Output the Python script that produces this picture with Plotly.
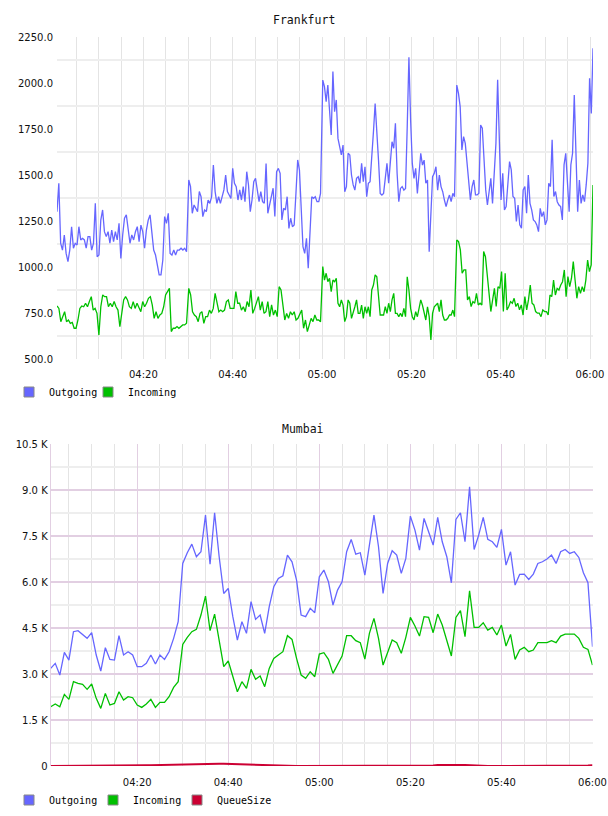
import pandas as pd
import plotly.graph_objects as go

DAY = "2014-01-01 "

# ---------------- Frankfurt data (30 s samples, in four half-hour blocks) ----------------
frankfurt_block_starts = ["04:00:40", "04:30:10", "05:00:10", "05:30:10"]
frankfurt_block_ends = ["04:29:40", "04:59:40", "05:29:40", "06:00:40"]

frankfurt_outgoing_1 = [1300, 1455, 1129, 1092, 1174, 1074, 1029, 1092, 1219, 1102,
                        1129, 1120, 1219, 1147, 1156, 1147, 1102, 1165, 1165, 1092,
                        1129, 1346, 1056, 1065, 1255, 1310, 1192, 1165, 1192, 1129,
                        1201, 1138, 1192, 1147, 1237, 1047, 1174, 1265, 1283, 1192,
                        1129, 1174, 1147, 1192, 1219, 1138, 1228, 1192, 1102, 1201,
                        1255, 1283, 1192, 1092, 1065, 1020, 957, 957, 1038, 1274,
                        1237, 1292, 1074, 1065, 1092, 1065, 1092, 1092, 1102, 1092,
                        1102, 1083]
frankfurt_outgoing_2 = [1473, 1437, 1292, 1337, 1319, 1301, 1410, 1382, 1274, 1310,
                        1301, 1364, 1346, 1382, 1554, 1410, 1346, 1382, 1346, 1382,
                        1419, 1500, 1410, 1391, 1373, 1536, 1455, 1437, 1364, 1419,
                        1364, 1437, 1355, 1518, 1446, 1301, 1364, 1464, 1482, 1419,
                        1355, 1410, 1355, 1346, 1563, 1292, 1337, 1364, 1428, 1274,
                        1518, 1536, 1509, 1256, 1319, 1310, 1382, 1210, 1265, 1219,
                        1228, 1400, 1582, 1527, 1310, 1111, 1074, 1156, 993, 1183,
                        1382, 1373, 1382, 1355, 1355, 1400]
frankfurt_outgoing_3 = [2016, 1980, 1899, 1989, 1835, 1717, 2062, 1844, 1908, 1699,
                        1654, 1609, 1663, 1409, 1437, 1618, 1609, 1500, 1446, 1418,
                        1482, 1491, 1455, 1563, 1464, 1545, 1382, 1455, 1464, 1636,
                        1735, 1889, 1763, 1581, 1400, 1391, 1400, 1473, 1563, 1455,
                        1554, 1681, 1645, 1781, 1509, 1355, 1427, 1437, 1418, 1427,
                        1763, 2140, 1799, 1563, 1482, 1536, 1400, 1527, 1618, 1554,
                        1581, 1455, 1473, 1083, 1292, 1491, 1509, 1545, 1418, 1500,
                        1437, 1409, 1364, 1328, 1364, 1391, 1355, 1400, 1382]
frankfurt_outgoing_4 = [1989, 1944, 1872, 1636, 1709, 1672, 1564, 1473, 1364, 1437,
                        1473, 1392, 1392, 1401, 1772, 1754, 1564, 1419, 1337, 1410,
                        1482, 1346, 1509, 1672, 2017, 1691, 1364, 1509, 1310, 1328,
                        1437, 1573, 1528, 1383, 1374, 1247, 1337, 1229, 1211, 1419,
                        1437, 1292, 1500, 1346, 1310, 1256, 1247, 1229, 1192, 1319,
                        1274, 1301, 1229, 1256, 1455, 1437, 1691, 1383, 1410, 1355,
                        1337, 1328, 1256, 1555, 1618, 1437, 1301, 1555, 1618, 1935,
                        1546, 1301, 1473, 1346, 1392, 1355, 1446, 1564, 2026, 1835,
                        2189]

frankfurt_incoming_1 = [788, 775, 703, 730, 757, 703, 712, 694, 699, 667,
                        667, 712, 775, 788, 784, 803, 784, 812, 839, 766,
                        775, 748, 630, 784, 848, 839, 839, 784, 803, 784,
                        812, 784, 766, 676, 766, 821, 839, 821, 784, 775,
                        812, 775, 803, 775, 757, 812, 784, 803, 830, 839,
                        794, 721, 757, 721, 739, 748, 784, 848, 866, 884,
                        649, 667, 667, 676, 667, 679, 685, 685, 694]
frankfurt_incoming_2 = [884, 848, 757, 739, 730, 703, 748, 757, 694, 730,
                        730, 766, 748, 775, 857, 803, 757, 766, 757, 766,
                        812, 821, 775, 775, 775, 866, 803, 803, 766, 784,
                        757, 812, 784, 875, 748, 775, 812, 839, 766, 812,
                        748, 757, 812, 730, 794, 739, 766, 730, 893, 875,
                        794, 712, 748, 721, 757, 739, 757, 712, 721, 748,
                        766, 667, 712, 649, 694, 721, 703, 739, 712, 712,
                        703]
frankfurt_incoming_3 = [1002, 929, 966, 920, 938, 866, 929, 920, 938, 803,
                        784, 821, 793, 703, 730, 821, 803, 721, 748, 784,
                        821, 748, 748, 793, 721, 784, 748, 784, 730, 875,
                        902, 957, 947, 857, 739, 739, 739, 784, 748, 803,
                        757, 821, 857, 748, 748, 730, 748, 730, 775, 730,
                        947, 875, 775, 730, 712, 757, 730, 775, 821, 793,
                        748, 712, 784, 730, 603, 748, 784, 793, 803, 757,
                        821, 739, 712, 712, 721, 739, 739, 766, 730]
frankfurt_incoming_4 = [1147, 1138, 1093, 966, 984, 984, 821, 839, 785, 812,
                        803, 857, 794, 803, 794, 1084, 1056, 966, 848, 758,
                        821, 884, 785, 893, 884, 975, 758, 966, 767, 785,
                        812, 803, 830, 785, 803, 767, 794, 739, 839, 767,
                        821, 902, 803, 794, 758, 749, 749, 730, 767, 758,
                        758, 739, 848, 839, 929, 848, 884, 875, 902, 920,
                        984, 839, 948, 893, 939, 1029, 929, 830, 893, 857,
                        893, 866, 929, 1038, 975, 1011, 1446]

# ---------------- Mumbai data (1 min samples) ----------------
mumbai_start = "04:01"
mumbai_outgoing = [3184, 3347, 2966, 3705, 3455, 4379, 4412, 4271, 4162, 4347,
                   3619, 3097, 3858, 3477, 3455, 4249, 3619, 3727, 3619, 3238,
                   3238, 3347, 3619, 3325, 3619, 3477, 3727, 4162, 4705, 6606,
                   6954, 7236, 6823, 6986, 8182, 6584, 8258, 6823, 5627, 5790,
                   4869, 4108, 4705, 4325, 5358, 4782, 4923, 4325, 5195, 5845,
                   6117, 6204, 6878, 6660, 6062, 4923, 4869, 5140, 5000, 6171,
                   6388, 6008, 5249, 5736, 6008, 6986, 7388, 6910, 6954, 6225,
                   7258, 8182, 7149, 5627, 6606, 7019, 6878, 6280, 6769, 8149,
                   7693, 7041, 8073, 7638, 7204, 8106, 7312, 6823, 5975, 8041,
                   8258, 7312, 9106, 7062, 7530, 8106, 7388, 7312, 7127, 7715,
                   6551, 6986, 5899, 6247, 6258, 6084, 6258, 6606, 6660, 6747,
                   6878, 6606, 6986, 7062, 6932, 6986, 6801, 6301, 5975, 3890]
mumbai_incoming = [1934, 2021, 1934, 2336, 2173, 2749, 2695, 2662, 2499, 2673,
                   2205, 1879, 2368, 1988, 2042, 2423, 2151, 2260, 2227, 1988,
                   1912, 2021, 2173, 1912, 2075, 2075, 2260, 2564, 2749, 3966,
                   4195, 4379, 4456, 4923, 5540, 4412, 4955, 4108, 3238, 3423,
                   2912, 2423, 2749, 2532, 3151, 2825, 2934, 2586, 3184, 3510,
                   3619, 3727, 4249, 4129, 3510, 2966, 2858, 3075, 2912, 3651,
                   3695, 3477, 3021, 3292, 3586, 4249, 4249, 4086, 4021, 3488,
                   4325, 4814, 4162, 3292, 3727, 4108, 4021, 3673, 4195, 4847,
                   4564, 4238, 4869, 4847, 4347, 4955, 4597, 4129, 3586, 4847,
                   5064, 4216, 5714, 4521, 4521, 4673, 4434, 4521, 4271, 4597,
                   3912, 4292, 3477, 3782, 3869, 3727, 3782, 4021, 4021, 4021,
                   4086, 4021, 4238, 4303, 4303, 4303, 4162, 3869, 3803, 3292]
mumbai_queue = [0, 0, 0, 0, 0, 0, 0, 0, 0, 0,
                0, 0, 0, 2, 4, 6, 8, 10, 12, 15,
                18, 22, 26, 30, 35, 40, 45, 50, 55, 60,
                65, 70, 75, 78, 80, 80, 78, 75, 70, 65,
                60, 52, 45, 38, 30, 25, 20, 15, 10, 6,
                3, 0, 0, 0, 0, 0, 0, 0, 0, 0,
                0, 0, 0, 0, 0, 0, 0, 0, 0, 0,
                0, 0, 0, 0, 0, 0, 0, 0, 0, 0,
                0, 0, 5, 10, 20, 30, 35, 40, 40, 40,
                35, 30, 20, 10, 5, 2, 0, 0, 0, 0,
                0, 0, 0, 0, 0, 0, 0, 0, 0, 0,
                0, 0, 0, 0, 0, 5, 10, 15, 20, 25]

# ---------------- axis ticks ----------------
frankfurt_y_ticks = [500, 750, 1000, 1250, 1500, 1750, 2000, 2250]
frankfurt_y_grid = [625, 875, 1125, 1375, 1625, 1875, 2125]
mumbai_y_ticks = [0, 1500, 3000, 4500, 6000, 7500, 9000, 10500]
mumbai_y_labels = ["0", "1.5 K", "3.0 K", "4.5 K", "6.0 K", "7.5 K", "9.0 K", "10.5 K"]
mumbai_y_grid = [750, 2250, 3750, 5250, 6750, 8250, 9750]

# ---------------- styling ----------------
W, H = 608, 816
C_OUT = "#6666ff"
C_IN = "#00c000"
C_Q = "#cc0033"
MONO = "DejaVu Sans Mono"
SANS = "DejaVu Sans"
CLEAR = "rgba(0,0,0,0)"


def block_times(values, start, end):
    return pd.date_range(DAY + start, DAY + end, periods=len(values))


f_out_blocks = [frankfurt_outgoing_1, frankfurt_outgoing_2, frankfurt_outgoing_3, frankfurt_outgoing_4]
f_in_blocks = [frankfurt_incoming_1, frankfurt_incoming_2, frankfurt_incoming_3, frankfurt_incoming_4]

f_out_x, f_out_y, f_in_x, f_in_y = [], [], [], []
for vals, s, e in zip(f_out_blocks, frankfurt_block_starts, frankfurt_block_ends):
    f_out_x += list(block_times(vals, s, e))
    f_out_y += vals
for vals, s, e in zip(f_in_blocks, frankfurt_block_starts, frankfurt_block_ends):
    f_in_x += list(block_times(vals, s, e))
    f_in_y += vals

m_x = pd.date_range(DAY + mumbai_start, periods=len(mumbai_outgoing), freq="1min")

fig = go.Figure()

# Frankfurt
fig.add_trace(go.Scatter(x=f_out_x, y=f_out_y, mode="lines", line=dict(color=C_OUT, width=1.3),
                         xaxis="x", yaxis="y", showlegend=False))
fig.add_trace(go.Scatter(x=f_in_x, y=f_in_y, mode="lines", line=dict(color=C_IN, width=1.3),
                         xaxis="x", yaxis="y", showlegend=False))
# Mumbai
fig.add_trace(go.Scatter(x=m_x, y=mumbai_outgoing, mode="lines", line=dict(color=C_OUT, width=1.3),
                         xaxis="x2", yaxis="y2", showlegend=False))
fig.add_trace(go.Scatter(x=m_x, y=mumbai_incoming, mode="lines", line=dict(color=C_IN, width=1.3),
                         xaxis="x2", yaxis="y2", showlegend=False))
fig.add_trace(go.Scatter(x=m_x, y=mumbai_queue, mode="lines", line=dict(color=C_Q, width=2),
                         xaxis="x2", yaxis="y2", showlegend=False, cliponaxis=False))


# legend swatches
def swatch(name, color, legend, xa, ya, edge="#888888"):
    return go.Scatter(x=[None], y=[None], mode="markers", name=name, legend=legend,
                      xaxis=xa, yaxis=ya,
                      marker=dict(symbol="square", size=10, color=color,
                                  line=dict(color=edge, width=1)))


fig.add_trace(swatch("Outgoing", C_OUT, "legend", "x", "y"))
fig.add_trace(swatch("Incoming", C_IN, "legend", "x", "y"))
fig.add_trace(swatch(" ", CLEAR, "legend", "x", "y", edge=CLEAR))
fig.add_trace(swatch("Outgoing", C_OUT, "legend2", "x2", "y2"))
fig.add_trace(swatch("Incoming", C_IN, "legend2", "x2", "y2"))
fig.add_trace(swatch("QueueSize", C_Q, "legend2", "x2", "y2"))
fig.add_trace(swatch(" ", CLEAR, "legend2", "x2", "y2", edge=CLEAR))

tickfont = dict(family=SANS, size=10, color="#111111")
GRID_H = "#eeeeee"
GRID_V = "#e4e4e4"
PINK = "#e2cfe2"

fig.update_layout(
    width=W, height=H,
    margin=dict(l=0, r=0, t=0, b=0, autoexpand=False),
    paper_bgcolor="white", plot_bgcolor="white",
    xaxis=dict(
        domain=[57 / W, 593 / W], anchor="y", type="date", automargin=False,
        range=[DAY + "04:00:40", DAY + "06:00:40"],
        tickmode="linear", tick0=DAY + "04:00", dtick=20 * 60 * 1000, tickformat="%H:%M",
        showgrid=True, gridcolor=GRID_V, gridwidth=1,
        minor=dict(dtick=5 * 60 * 1000, tick0=DAY + "04:00", showgrid=True, gridcolor=GRID_V, gridwidth=1),
        showline=False, zeroline=False, ticks="", tickfont=tickfont, ticklabelstandoff=8,
    ),
    yaxis=dict(
        domain=[1 - 359 / H, 1 - 37 / H], anchor="x", automargin=False,
        range=[500, 2250], tickvals=frankfurt_y_ticks, tickformat=".1f",
        showgrid=False,
        minor=dict(tickvals=frankfurt_y_grid, showgrid=True, gridcolor=GRID_H, gridwidth=2),
        showline=False, zeroline=False, ticks="", tickfont=tickfont, ticklabelstandoff=3,
    ),
    xaxis2=dict(
        domain=[50.7 / W, 592.5 / W], anchor="y2", type="date", automargin=False,
        range=[DAY + "04:01", DAY + "06:00"],
        tickmode="linear", tick0=DAY + "04:00", dtick=20 * 60 * 1000, tickformat="%H:%M",
        showgrid=True, gridcolor=PINK, gridwidth=1,
        minor=dict(dtick=5 * 60 * 1000, tick0=DAY + "04:00", showgrid=True, gridcolor=GRID_V, gridwidth=1),
        showline=False, zeroline=False, ticks="", tickfont=tickfont, ticklabelstandoff=9,
    ),
    yaxis2=dict(
        domain=[1 - 766 / H, 1 - 444 / H], anchor="x2", automargin=False,
        range=[0, 10500], tickvals=mumbai_y_ticks, ticktext=mumbai_y_labels,
        showgrid=True, gridcolor=PINK, gridwidth=2,
        minor=dict(tickvals=mumbai_y_grid, showgrid=True, gridcolor=GRID_H, gridwidth=2),
        showline=True, linecolor=PINK, linewidth=1, mirror=False,
        zeroline=False, ticks="", tickfont=tickfont, ticklabelstandoff=0,
    ),
    legend=dict(orientation="h", x=9 / W, y=1 - 392 / H, xanchor="left", yanchor="middle",
                font=dict(family=MONO, size=10, color="#000000"), bgcolor="rgba(0,0,0,0)",
                itemwidth=30, entrywidth=34),
    legend2=dict(orientation="h", x=9 / W, y=1 - 800 / H, xanchor="left", yanchor="middle",
                 font=dict(family=MONO, size=10, color="#000000"), bgcolor="rgba(0,0,0,0)",
                 itemwidth=30, entrywidth=39),
    annotations=[
        dict(text="Frankfurt", x=304 / W, y=1 - 20 / H, xref="paper", yref="paper",
             xanchor="center", yanchor="middle", showarrow=False,
             font=dict(family=MONO, size=11.5, color="#111111")),
        dict(text="Mumbai", x=303 / W, y=1 - 429 / H, xref="paper", yref="paper",
             xanchor="center", yanchor="middle", showarrow=False,
             font=dict(family=MONO, size=11.5, color="#111111")),
    ],
)

fig.write_html("out.html")
